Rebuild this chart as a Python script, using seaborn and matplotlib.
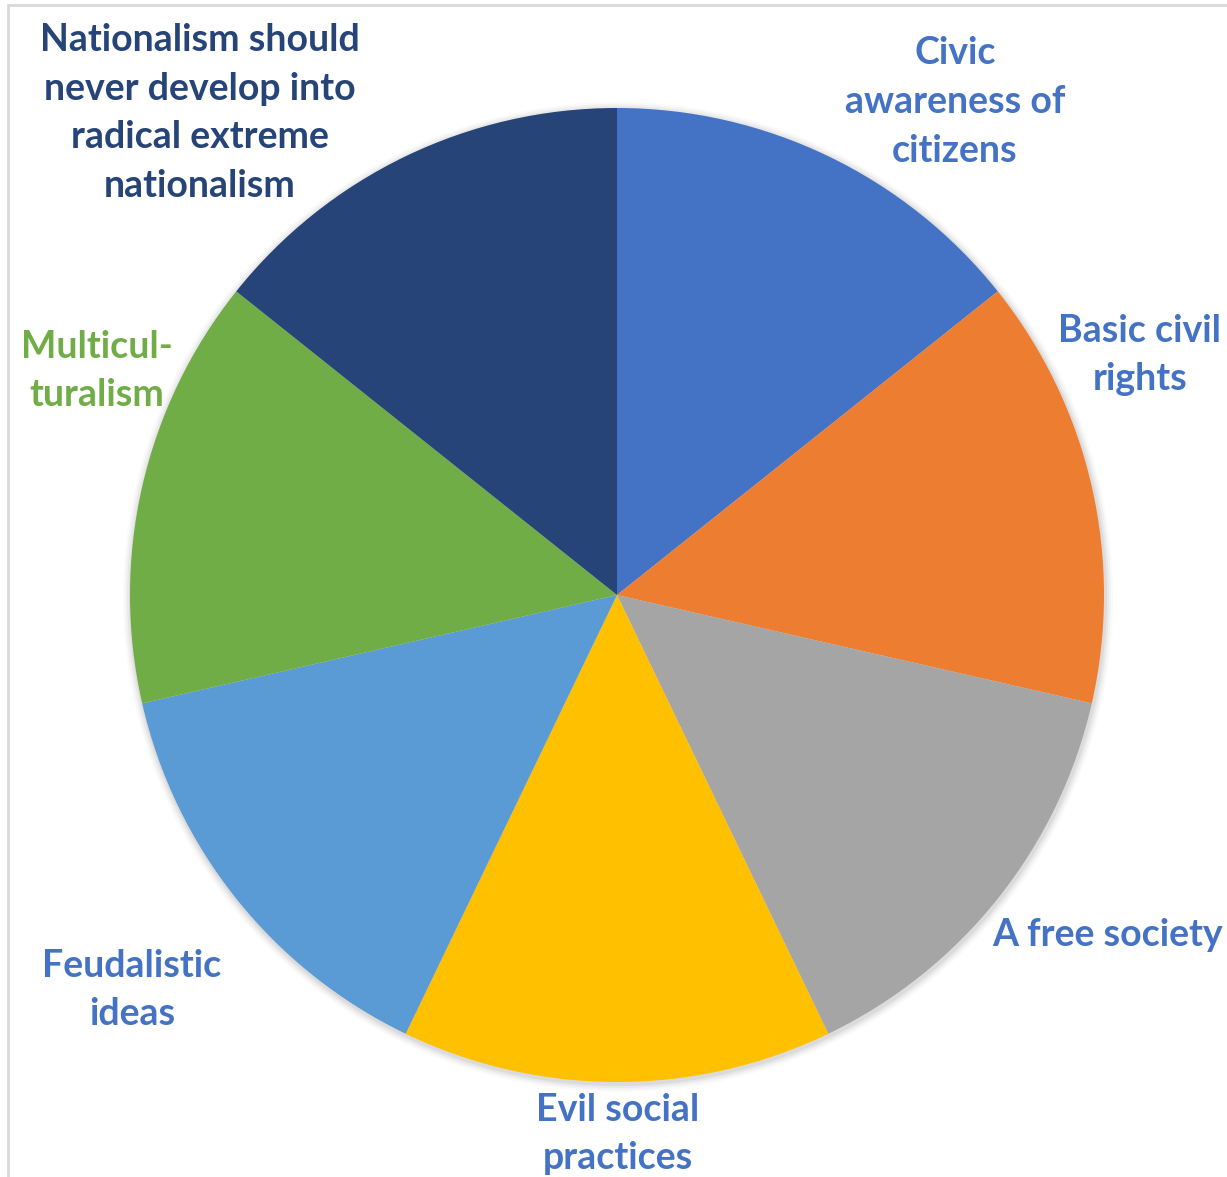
import matplotlib
matplotlib.use("Agg")
import matplotlib.pyplot as plt
import seaborn as sns
from matplotlib.patches import Circle
from matplotlib.lines import Line2D

# Topics and their shares (equal weight each)
topics = [
    "Civic\nawareness of\ncitizens",
    "Basic civil\nrights",
    "A free society",
    "Evil social\npractices",
    "Feudalistic\nideas",
    "Multicul-\nturalism",
    "Nationalism should\nnever develop into\nradical extreme\nnationalism",
]
shares = [1, 1, 1, 1, 1, 1, 1]
slice_colors = ["#4472C4", "#ED7D31", "#A5A5A5", "#FFC000", "#5B9BD5", "#70AD47", "#264478"]
label_colors = ["#4472C4", "#4472C4", "#4472C4", "#4472C4", "#4472C4", "#70AD47", "#264478"]

sns.set_theme(style="white")
plt.rcParams["font.family"] = ["Lato", "DejaVu Sans"]

W, H = 1227, 1177
fig = plt.figure(figsize=(W / 100, H / 100), dpi=100)
ax = fig.add_axes([0, 0, 1, 1])

cx, cy, r = 617, H - 595, 487

# soft shadow around the pie
for k, a in enumerate([0.05, 0.04, 0.03, 0.02]):
    ax.add_patch(Circle((cx + 1, cy - 2), r + 2 + 2 * k, color="black", alpha=a, lw=0, zorder=0))

ax.pie(shares, colors=sns.color_palette(slice_colors), startangle=90, counterclock=False,
       center=(cx, cy), radius=r, wedgeprops=dict(linewidth=0), frame=True)

# label anchors (pixel positions, y measured from top)
label_pos = [(955, 102), (1140, 355), (1108, 935), (618, 1134), (132, 990), (97, 371), (200, 113)]
for text, (x, y), col in zip(topics, label_pos, label_colors):
    ax.text(x, H - y, text, ha="center", va="center", color=col, fontsize=27,
            fontweight="bold", linespacing=1.53, zorder=5)

ax.set_xlim(0, W)
ax.set_ylim(0, H)
ax.set_aspect("auto")
ax.axis("off")

# chart-area border
fig.add_artist(Line2D([8 / W, 1.0], [1 - 5 / H, 1 - 5 / H], color="#D9D9D9", lw=2, transform=fig.transFigure))
fig.add_artist(Line2D([8 / W, 8 / W], [0, 1 - 5 / H], color="#D9D9D9", lw=2, transform=fig.transFigure))

fig.savefig("out.png", dpi=100, facecolor="white")
